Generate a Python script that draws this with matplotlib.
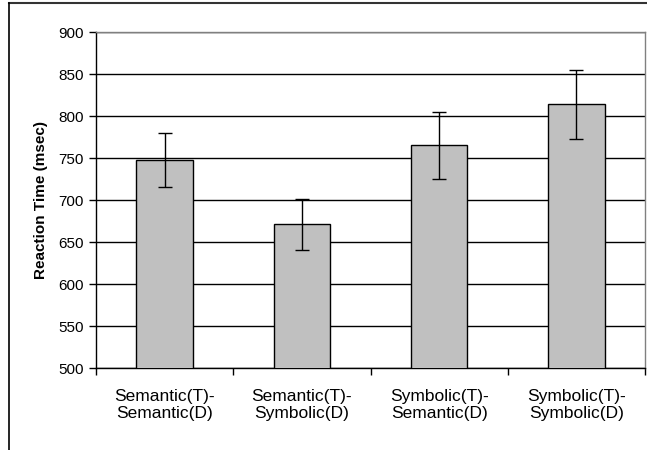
import numpy as np
import matplotlib.pyplot as plt
from matplotlib.lines import Line2D

# Data
categories = ['Semantic(T)-\nSemantic(D)', 'Semantic(T)-\nSymbolic(D)',
              'Symbolic(T)-\nSemantic(D)', 'Symbolic(T)-\nSymbolic(D)']
means = [748, 671, 765, 814]
errors = [32, 30, 40, 41]
yticks = [500, 550, 600, 650, 700, 750, 800, 850, 900]

plt.rcParams['font.family'] = ['Liberation Sans', 'DejaVu Sans']

fig = plt.figure(figsize=(6.47, 4.5), dpi=100)
W, H = 647, 450
ax = fig.add_axes([96 / W, 1 - 368 / H, (645 - 96) / W, (368 - 32) / H])

x = np.arange(len(categories))
ax.bar(x, means, width=0.41, color='#c0c0c0', edgecolor='black', linewidth=1.0,
       zorder=3)
ax.errorbar(x, means, yerr=errors, fmt='none', ecolor='black', elinewidth=1.0,
            capsize=5, capthick=1.0, zorder=4)

ax.set_xlim(-0.5, len(categories) - 0.5)
ax.set_ylim(500, 900)
ax.set_yticks(yticks)
ax.tick_params(axis='y', labelsize=11, direction='out', length=5, width=1, pad=4)
ax.yaxis.grid(True, color='black', linewidth=1.0, zorder=0)

# category separators as ticks, labels in the middle
ax.set_xticks(np.arange(-0.5, len(categories), 1.0))
ax.set_xticklabels([])
ax.set_xticks(x, minor=True)
ax.set_xticklabels(categories, minor=True, fontsize=12.5)
ax.tick_params(axis='x', which='major', direction='out', length=5, width=1)
ax.tick_params(axis='x', which='minor', length=0, pad=15)

ax.set_ylabel('Reaction Time (msec)', fontsize=11, fontweight='bold', labelpad=7)

for side in ['left', 'bottom']:
    ax.spines[side].set_color('black')
    ax.spines[side].set_linewidth(1.0)
for side in ['top', 'right']:
    ax.spines[side].set_color('#808080')
    ax.spines[side].set_linewidth(1.0)

# outer chart border (top and left visible)
fig.add_artist(Line2D([9 / W, 1], [1 - 2.5 / H, 1 - 2.5 / H], color='#333333',
                      linewidth=1.5, transform=fig.transFigure))
fig.add_artist(Line2D([9 / W, 9 / W], [0, 1 - 2.5 / H], color='black',
                      linewidth=1.2, transform=fig.transFigure))

fig.savefig('out.png', dpi=100)
